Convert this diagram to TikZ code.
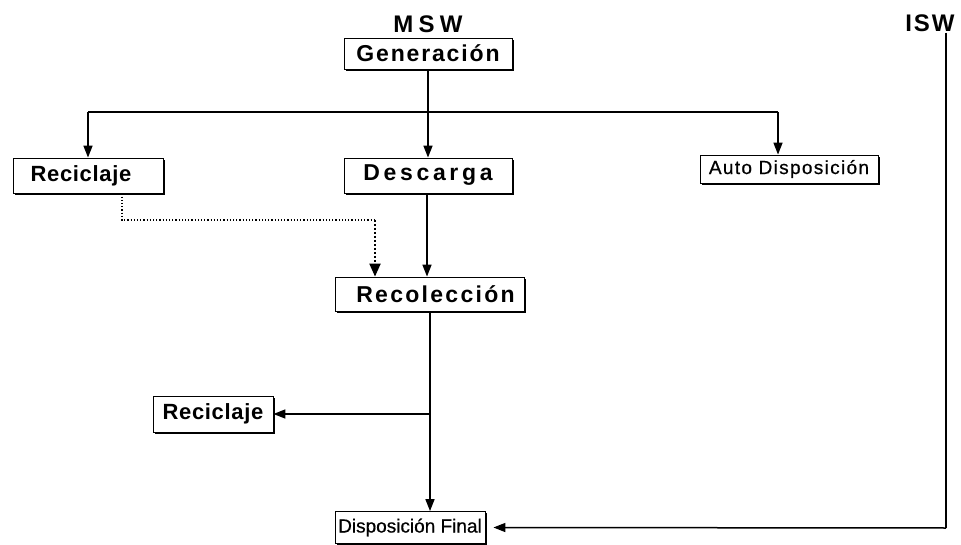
\documentclass[tikz,border=0pt]{standalone}
\usepackage{fontspec}
\setmainfont{Liberation Sans}
\newfontfamily\genfont[LetterSpace=8]{Liberation Sans}
\newfontfamily\descfont[LetterSpace=16]{Liberation Sans}
\newfontfamily\recfont[LetterSpace=3]{Liberation Sans}
\newfontfamily\recolfont[LetterSpace=10]{Liberation Sans}
\newfontfamily\autofont[LetterSpace=7,FakeBold=0.6]{Liberation Sans}
\newfontfamily\dffont[FakeBold=0.6]{Liberation Sans}
\newfontfamily\mswfont[LetterSpace=22]{Liberation Sans}
\newfontfamily\iswfont[LetterSpace=8]{Liberation Sans}
\usetikzlibrary{arrows.meta,shadows}
\begin{document}
\begin{tikzpicture}[x=1pt,y=-1pt,
  stage/.style={draw, fill=white, line width=0.8pt, inner sep=0pt,
    drop shadow={shadow xshift=1.8pt, shadow yshift=-1.8pt, fill=black, opacity=1}},
  bigtext/.style={font=#1\bfseries\fontsize{23}{27}\selectfont},
  smalltext/.style={font=#1\fontsize{19}{22}\selectfont},
  label/.style={font=#1\bfseries\fontsize{24}{28}\selectfont, inner sep=1pt},
  conn/.style={line width=1.5pt, -{Triangle[length=12pt,width=9pt]}},
  flow/.style={line width=1.5pt},
  dotflow/.style={line width=1.2pt, dotted},
]
\useasboundingbox (0,0) rectangle (961,545);

% stages
\node[stage, bigtext=\genfont, minimum width=168pt, minimum height=31pt] (gen) at (428,53.5) {Generación};
\node[stage, font=\recfont\bfseries\fontsize{22}{26}\selectfont, minimum width=150pt, minimum height=35pt] (rec1) at (88,175.5) {Reciclaje\hspace*{14pt}};
\node[stage, bigtext=\descfont, minimum width=168pt, minimum height=35pt] (desc) at (428,175.5) {Descarga};
\node[stage, smalltext=\autofont, minimum width=178pt, minimum height=28pt] (auto) at (789,169) {Auto Disposición};
\node[stage, bigtext=\recolfont, minimum width=189pt, minimum height=34pt] (recol) at (429.5,294) {\hspace*{12pt}Recolección};
\node[stage, font=\recfont\bfseries\fontsize{22}{26}\selectfont, minimum width=120pt, minimum height=36pt] (rec2) at (213,414) {Reciclaje};
\node[stage, smalltext=\dffont, minimum width=150pt, minimum height=32pt] (df) at (410,527.5) {Disposición Final};

% stream labels
\node[label=\mswfont] (msw) at (428,24) {MSW};
\node[label=\iswfont] (isw) at (930,23) {ISW};

% branch points
\coordinate (hl) at (88,112);
\coordinate (hr) at (778,112);
\coordinate (d1) at (122,220);
\coordinate (d2) at (375,220);
\coordinate (dd) at (427,230);
\coordinate (br) at (430,414);
\coordinate (ic) at (946,528);

% connectors
\draw[conn] (gen.south) -- (desc.north);
\draw[flow] (hl) -- (hr);
\draw[conn] (hl) -- (rec1.north);
\draw[conn] (hr) -- (hr |- auto.north);
\draw[dotflow] (rec1.south -| d1) -- (d1) -- (d2);
\draw[line width=2pt, dotted, -{Triangle[length=13pt,width=11pt]}] (d2) -- (d2 |- recol.north);
\draw[conn] (desc.south -| dd) -- (dd |- recol.north);
\draw[conn] (recol.south -| br) -- (br |- df.north);
\draw[conn] (br) -- (rec2.east);
\draw[flow] (isw.south -| ic) -- (ic);
\draw[conn] (ic) -- ([xshift=8pt]df.east);
\end{tikzpicture}
\end{document}
